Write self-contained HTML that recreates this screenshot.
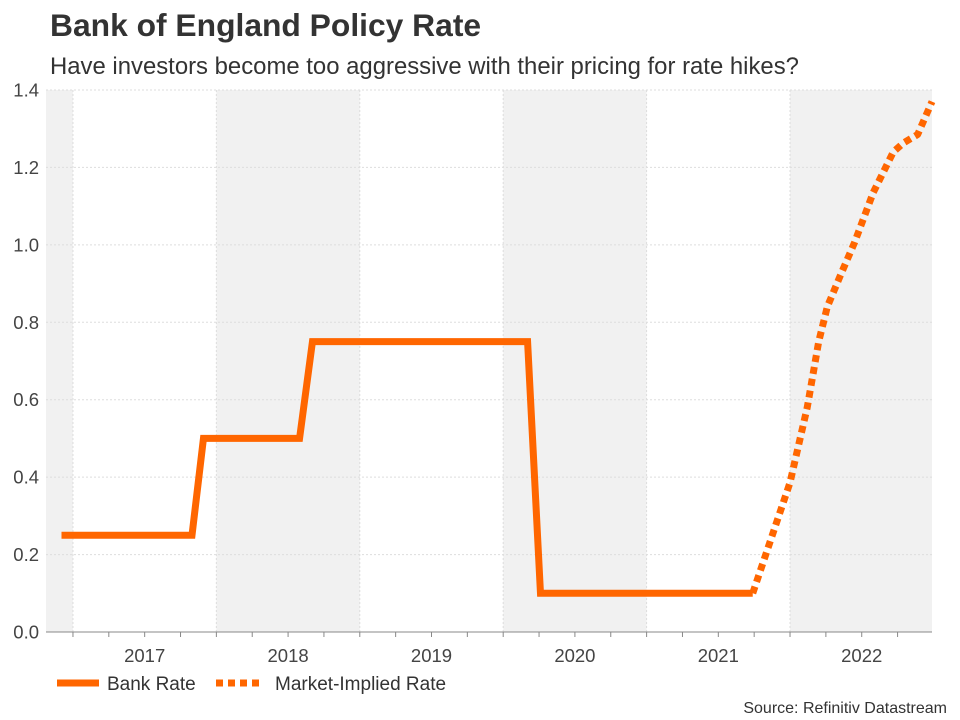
<!DOCTYPE html>
<html><head><meta charset="utf-8"><style>
body{margin:0;background:#fff;font-family:"Liberation Sans",sans-serif;}
#wrap{position:relative;width:960px;height:720px;overflow:hidden;}
</style></head><body>
<div id="wrap">
<svg id="chart" width="960" height="720">
<text x="50" y="36" font-size="31.8" font-weight="bold" fill="#333">Bank of England Policy Rate</text>
<text x="50" y="74" font-size="23.9" fill="#333">Have investors become too aggressive with their pricing for rate hikes?</text>
<g id="bands"></g><g id="grid"></g><g id="axes"></g><g id="series"></g>
<g>
<line x1="57" y1="683" x2="99" y2="683" stroke="#ff6600" stroke-width="7"/>
<text x="107" y="690" font-size="19" fill="#333">Bank Rate</text>
<line x1="216" y1="683" x2="260" y2="683" stroke="#ff6600" stroke-width="7" stroke-dasharray="7,5"/>
<text x="275" y="690" font-size="19" fill="#333">Market-Implied Rate</text>
</g>
<text x="947" y="713" font-size="16" fill="#333" text-anchor="end">Source: Refinitiv Datastream</text>
</svg>
</div>
<script>
const bankDates=[2016.92,2017.83,2017.91,2018.58,2018.67,2020.17,2020.26,2021.74];
const bankValues=[0.25,0.25,0.5,0.5,0.75,0.75,0.1,0.1];
const impliedDates=[2021.74,2022.0,2022.12,2022.2,2022.26,2022.35,2022.45,2022.58,2022.72,2022.79,2022.89,2022.99];
const impliedValues=[0.1,0.386,0.58,0.75,0.84,0.92,1.006,1.135,1.24,1.263,1.285,1.37];
const yTicks=[0,0.2,0.4,0.6,0.8,1.0,1.2,1.4];
const yearLabels=[2017,2018,2019,2020,2021,2022];

const X0=46,X1=932,Y0=632,Y1=90;
const tMin=2016.812,tMax=2022.99;
function x(t){return X0+(t-tMin)/(tMax-tMin)*(X1-X0);}
function y(v){return Y0-(v/1.4)*(Y0-Y1);}
const NS="http://www.w3.org/2000/svg";
function mk(tag,attrs,parent){const e=document.createElementNS(NS,tag);for(const k in attrs)e.setAttribute(k,attrs[k]);parent.appendChild(e);return e;}
const bands=document.getElementById('bands'),grid=document.getElementById('grid'),axes=document.getElementById('axes'),series=document.getElementById('series');
[2016,2018,2020,2022].forEach(yr=>{
  const a=Math.max(x(yr),X0),b=Math.min(x(yr+1),X1);
  const r=mk('rect',{x:a,y:Y1,width:b-a,height:Y0-Y1,fill:'#f1f1f1'},bands);
  
  
});
yTicks.forEach(v=>{
  const l=mk('line',{x1:X0,x2:X1,y1:y(v),y2:y(v),stroke:'#ddd','stroke-dasharray':'2,2'},grid);
  
  
  const t=mk('text',{x:39,y:y(v)+6.5,'font-size':18.5,fill:'#444','text-anchor':'end'},axes);
  t.textContent=v.toFixed(1);
  
  
});
yearLabels.forEach(yr=>{
  const l=mk('line',{x1:x(yr),x2:x(yr),y1:Y1,y2:Y0,stroke:'#ddd','stroke-dasharray':'2,2'},grid);
  
  
  const t=mk('text',{x:x(yr+0.5),y:662,'font-size':18.5,fill:'#444','text-anchor':'middle'},axes);
  t.textContent=yr;
  
  
});
for(let q=2017;q<2023;q+=0.25){
  const tk=mk('line',{x1:x(q),x2:x(q),y1:Y0,y2:Y0+5,stroke:'#888'},axes);
  
  
}
const ax=mk('line',{x1:X0,x2:X1,y1:Y0,y2:Y0,stroke:'#888'},axes);


function pts(d,v){return d.map((t,i)=>x(t)+','+y(v[i])).join(' ');}
const p1=mk('polyline',{points:pts(bankDates,bankValues),fill:'none',stroke:'#ff6600','stroke-width':7,'stroke-linejoin':'miter'},series);


const p2=mk('polyline',{points:pts(impliedDates,impliedValues),fill:'none',stroke:'#ff6600','stroke-width':7,'stroke-dasharray':'7,5','stroke-linejoin':'round'},series);


</script>
</body></html>
